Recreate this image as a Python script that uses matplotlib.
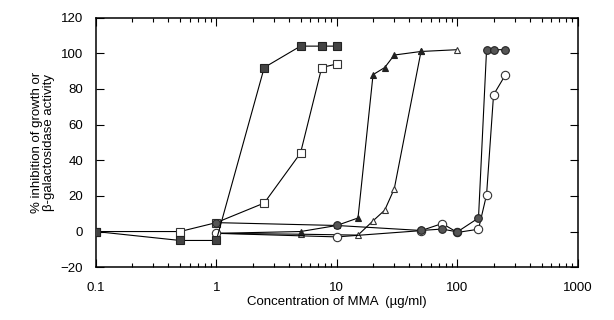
import matplotlib
matplotlib.use("Agg")
import matplotlib.pyplot as plt
from matplotlib.ticker import LogLocator, FixedLocator, NullFormatter, MultipleLocator

plt.rcParams['font.family'] = ['Liberation Sans', 'DejaVu Sans']

# --- data ---
fsq_x = [0.1, 0.5, 1, 2.5, 5, 7.5, 10]
fsq_y = [0, -5, -5, 92, 104, 104, 104]

osq_x = [0.1, 0.5, 1, 2.5, 5, 7.5, 10]
osq_y = [0, 0, 5, 16, 44, 92, 94]

ftri_x = [1, 5, 10, 15, 20, 25, 30, 50]
ftri_y = [-1, 0, 3.4, 7.6, 88, 92, 99, 101]

otri_x = [1, 5, 15, 20, 25, 30, 50, 100]
otri_y = [-1, -1.5, -2, 6, 12, 24, 101, 102]

ocir_x = [1, 10, 50, 75, 100, 150, 175, 200, 250]
ocir_y = [-1, -3, 0.5, 4.5, -0.5, 1.3, 20.6, 76.7, 87.7]

fcir_x = [1, 10, 50, 75, 100, 150, 175, 200, 250]
fcir_y = [5, 3.4, 0.6, 1.4, -0.2, 7.6, 102, 102, 102]

xticks = [0.1, 1, 10, 100, 1000]
xtick_labels = ['0.1', '1', '10', '100', '1000']
yticks = [-20, 0, 20, 40, 60, 80, 100, 120]

fig = plt.figure(figsize=(6.14, 3.2), dpi=100)
ax = fig.add_axes([0.156, 0.165, 0.785, 0.78])

lw = 0.8
ms = 5
ax.plot(otri_x, otri_y, '-', color='black', lw=lw, marker='^', ms=ms,
        mfc='white', mec='#333333', mew=0.8, zorder=3)
ax.plot(ftri_x, ftri_y, '-', color='black', lw=lw, marker='^', ms=ms,
        mfc='#222222', mec='#222222', mew=0.8, zorder=3)
ax.plot(ocir_x, ocir_y, '-', color='black', lw=lw, marker='o', ms=ms + 1,
        mfc='white', mec='#333333', mew=0.8, zorder=4)
ax.plot(fcir_x, fcir_y, '-', color='black', lw=lw, marker='o', ms=ms + 0.5,
        mfc='#555555', mec='#222222', mew=0.8, zorder=5)
ax.plot(osq_x, osq_y, '-', color='black', lw=lw, marker='s', ms=ms + 1,
        mfc='white', mec='#333333', mew=0.8, zorder=4)
ax.plot(fsq_x, fsq_y, '-', color='black', lw=lw, marker='s', ms=ms + 0.5,
        mfc='#444444', mec='#222222', mew=0.8, zorder=5)

ax.set_xscale('log')
ax.set_xlim(0.1, 1000)
ax.set_ylim(-20, 120)
ax.xaxis.set_major_locator(FixedLocator(xticks))
ax.set_xticklabels(xtick_labels)
ax.xaxis.set_minor_locator(LogLocator(base=10, subs=range(2, 10)))
ax.xaxis.set_minor_formatter(NullFormatter())
ax.set_yticks(yticks)
ax.yaxis.set_minor_locator(MultipleLocator(20))

ax.tick_params(axis='both', which='both', direction='in', top=True, right=True,
               labelsize=9.5, width=0.8)
ax.tick_params(axis='x', which='major', length=6, pad=11)
ax.tick_params(axis='x', which='minor', length=3)
ax.tick_params(axis='y', which='major', length=6, pad=9)
for s in ax.spines.values():
    s.set_linewidth(1.1)

ax.set_xlabel('Concentration of MMA  (\u00b5g/ml)', fontsize=9.5, labelpad=1)
ax.set_ylabel('% inhibition of growth or\n\u03b2-galactosidase activity',
              fontsize=9.5, labelpad=4, linespacing=1.05)

fig.savefig('out.png', dpi=100)
